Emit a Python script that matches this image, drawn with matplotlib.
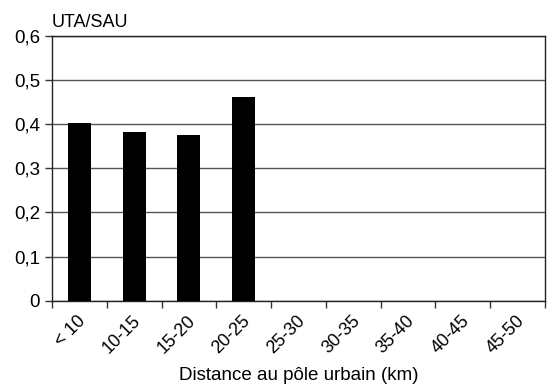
import matplotlib
matplotlib.use("Agg")
import matplotlib.pyplot as plt
from matplotlib.ticker import FuncFormatter
from matplotlib.transforms import ScaledTranslation

categories = ["< 10", "10-15", "15-20", "20-25", "25-30", "30-35", "35-40", "40-45", "45-50"]
values = [0.403, 0.382, 0.375, 0.462, 0, 0, 0, 0, 0]
yticks = [0, 0.1, 0.2, 0.3, 0.4, 0.5, 0.6]

plt.rcParams["font.family"] = ["Liberation Sans", "DejaVu Sans"]

fig = plt.figure(figsize=(5.52, 3.85), dpi=100)
ax = fig.add_axes([52 / 552, 1 - 300.7 / 385, (545 - 52) / 552, (300.7 - 36) / 385])

x = list(range(len(categories)))
ax.bar(x, values, width=0.42, color="black", zorder=3)

ax.set_xlim(-0.5, len(categories) - 0.5)
ax.set_ylim(0, 0.6)
ax.set_yticks(yticks)
ax.yaxis.set_major_formatter(FuncFormatter(lambda v, p: "0" if v == 0 else f"{v:.1f}".replace(".", ",")))
ax.grid(axis="y", color="#555555", linewidth=1.0, zorder=1)

# category boundaries carry the tick marks, labels sit at the centres
ax.set_xticks([i - 0.5 for i in range(len(categories) + 1)])
ax.set_xticklabels([])
ax.set_xticks(x, minor=True)
ax.set_xticklabels(categories, minor=True, rotation=45, ha="right", va="center",
                   rotation_mode="anchor", fontsize=13)
ax.tick_params(axis="x", which="minor", length=0, pad=13)
ax.tick_params(axis="x", which="major", length=5, width=1, color="#333333")
ax.tick_params(axis="y", length=5, width=1, color="#333333", labelsize=13.5, pad=3.5)

shift = ScaledTranslation(4 / 100, 0, fig.dpi_scale_trans)
for lbl in ax.get_xticklabels(minor=True):
    lbl.set_transform(lbl.get_transform() + shift)

for side in ["left", "bottom", "top", "right"]:
    ax.spines[side].set_color("#222222")
    ax.spines[side].set_linewidth(1.0)

fig.text((52 + 545) / 2 / 552, 1 - 375 / 385, "Distance au pôle urbain (km)",
         fontsize=13.5, ha="center", va="center")
fig.text(52 / 552, 1 - 22.5 / 385, "UTA/SAU", fontsize=13, ha="left", va="center")

fig.savefig("out.png", dpi=100)
